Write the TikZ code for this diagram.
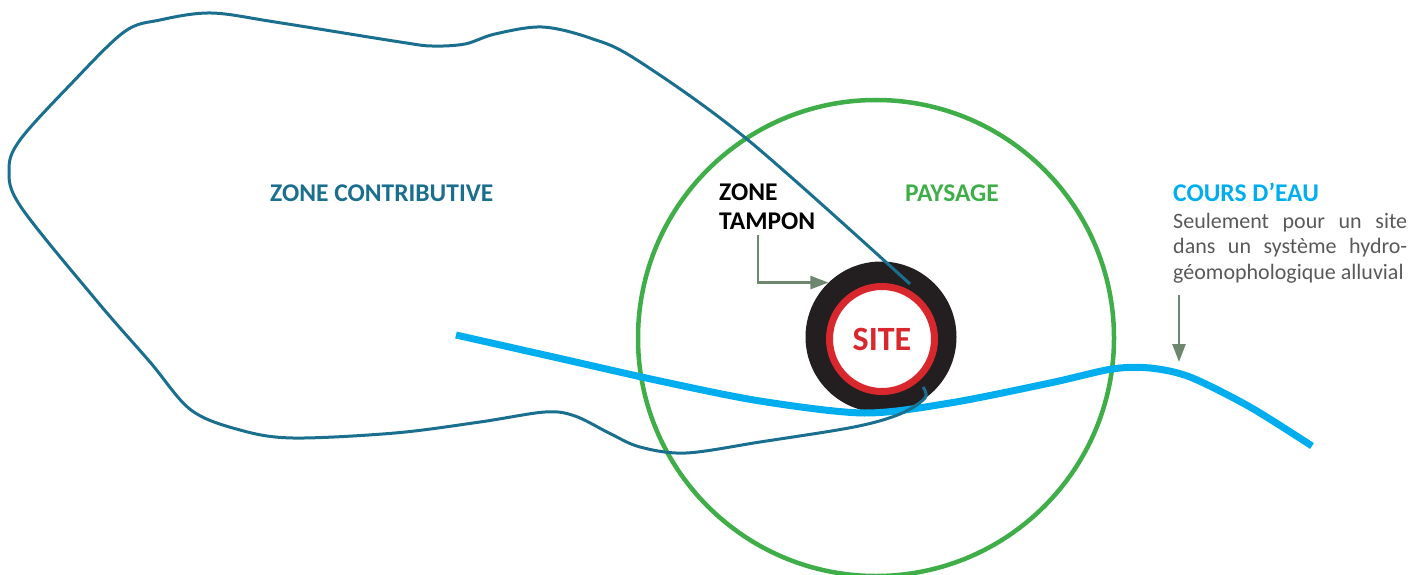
\documentclass[tikz,border=0pt]{standalone}
\usepackage{fontspec}
\setmainfont{Carlito}
\usepackage{xcolor}
\usepackage{tikz}
\usetikzlibrary{arrows.meta}

\definecolor{zoneblue}{HTML}{1A6E8E}
\definecolor{paysgreen}{HTML}{3FAE49}
\definecolor{riverblue}{HTML}{00AEEF}
\definecolor{sitered}{HTML}{D9272E}
\definecolor{tampblack}{HTML}{231F20}
\definecolor{notegray}{HTML}{595959}
\definecolor{pointgreen}{HTML}{6E876E}

\begin{document}
\begin{tikzpicture}[x=1pt, y=-1pt,
    zonelabel/.style={inner sep=0pt, font=\fontsize{25.5}{29}\selectfont\bfseries},
    pointer/.style={draw=pointgreen, line width=2.5pt, -{Triangle[length=18pt,width=13pt]}}]
        \useasboundingbox (0,0) rectangle (1427,575);

        % paysage
        \draw[paysgreen, line width=4.5pt] (876,338) circle (238pt);

        % zone tampon et site
        \node[circle, fill=tampblack, minimum size=151pt, inner sep=0pt] (buffer) at (881,337) {};
        \node[circle, draw=sitered, line width=7pt, fill=white, minimum size=105pt, inner sep=0pt,
              text=sitered, font=\fontsize{34}{38}\selectfont\bfseries] (site) at (882,339) {SITE};

        % cours d'eau
        \draw[riverblue, line width=7pt] plot[smooth] coordinates {(456,335) (558,358) (660,381) (760,401)
            (864,413) (950,403) (1050,383) (1112,369) (1150,368) (1190,377) (1250,407) (1312,446)};

        % zone contributive
        \draw[zoneblue, line width=3pt, line join=round] plot[smooth, tension=0.55] coordinates {(910,284)
            (748,140) (637,60) (590,38) (542,27) (495,34) (465,44) (432,46) (400,42) (275,22) (211,13)
            (160,20) (124,32) (70,85) (20,140) (9,170) (21,207) (96,300) (150,362) (191,410) (240,430)
            (293,438) (395,433) (480,422) (545,412) (575,416) (609,433) (640,447) (686,453) (760,442)
            (854,427) (900,414) (925,398) (923,387)};

        \node[zonelabel, text=zoneblue, anchor=base west] (contrib) at (270,201) {ZONE CONTRIBUTIVE};
        \node[zonelabel, text=paysgreen, anchor=base west] (paysage) at (905,201) {PAYSAGE};
        \node[zonelabel, anchor=north west, align=left] (tampon) at (719,184) {ZONE\\TAMPON};
        \node[zonelabel, text=riverblue, anchor=base west] (courseau) at (1173,201) {COURS D’EAU};
        \node[inner sep=0pt, anchor=north west, text width=234pt, align=justify, text=notegray,
              font=\fontsize{22}{25.5}\selectfont] (note) at (1173,213)
              {Seulement pour un site\linebreak dans un système hydro-\linebreak géomophologique alluvial};

        \coordinate (riverpoint) at (1179,362);
        \draw[pointer] ([yshift=-12pt]riverpoint |- note.south) -- (riverpoint);
        \draw[pointer] ([xshift=39pt,yshift=-5pt]tampon.south west) |- (buffer.134);
    \end{tikzpicture}
\end{document}
